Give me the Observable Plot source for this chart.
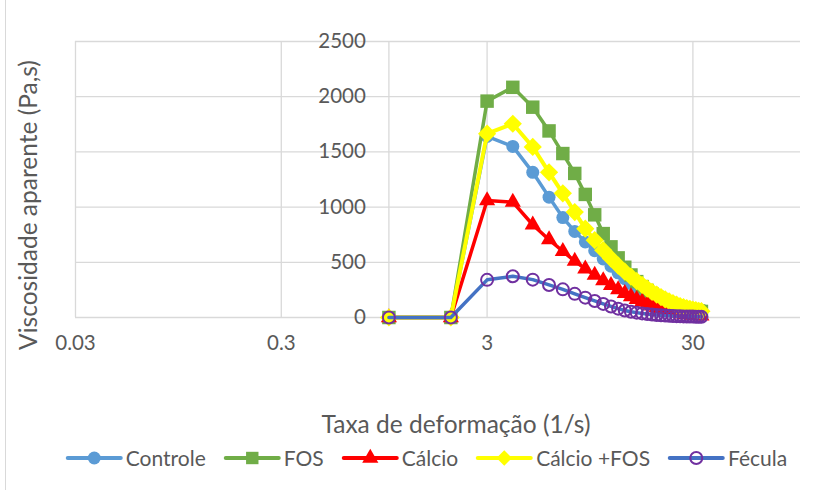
<!DOCTYPE html>
<html>
<head>
<meta charset="utf-8">
<script src="https://cdn.jsdelivr.net/npm/d3@7"></script>
<script src="https://cdn.jsdelivr.net/npm/@observablehq/plot@0.6"></script>
<style>
  body { margin: 0; background: #fff; font-family: Lato, "Open Sans", sans-serif; }
  #wrap { position: relative; width: 835px; height: 490px; overflow: hidden; background: #fff; }
  #border { position: absolute; left: 5px; top: 0; width: 1px; height: 490px; background: #d9d9d9; }
  #chart { position: absolute; left: 0; top: 0; }
  #ytitle { position: absolute; left: 28px; top: 205px; transform: translate(-50%, -50%) rotate(-90deg);
            white-space: nowrap; font-size: 24.5px; color: #595959; line-height: 1; }
  #xtitle { position: absolute; left: 456px; top: 412px; transform: translateX(-50%);
            white-space: nowrap; font-size: 24.5px; color: #595959; line-height: 1; }
  #legend { position: absolute; left: 427px; top: 447px; transform: translateX(-50%);
            display: flex; gap: 19px; white-space: nowrap; font-size: 21px; color: #595959; line-height: 22px; }
  .item { display: flex; align-items: center; gap: 4px; }
</style>
</head>
<body>
<div id="wrap">
  <div id="border"></div>
  <div id="chart"></div>
  <div id="ytitle">Viscosidade aparente (Pa,s)</div>
  <div id="xtitle">Taxa de deformação (1/s)</div>
  <div id="legend"></div>
</div>
<script>
// ---- data ----
const shearRate = [1,2,3,4,5,6,7,8,9,10,11,12,13,14,15,16,17,18,19,20,21,22,23,24,25,26,27,28,29,30,31,32,33];
const controle  = [0,0,1640,1550,1315,1090,905,780,685,605,530,465,405,352,307,268,232,200,172,148,128,111,97,85,75,66,58,52,46,41,37,33,30];
const fos       = [0,0,1960,2085,1905,1690,1485,1305,1115,930,760,640,540,455,385,325,280,245,212,185,162,143,127,114,103,94,86,79,73,68,63,59,55];
const calcio    = [0,0,1060,1045,840,705,600,510,440,385,335,292,252,218,190,165,142,122,105,90,78,67,58,50,44,38,33,29,26,23,20,18,16];
const calcioFos = [0,0,1665,1755,1545,1315,1125,955,805,700,610,535,470,415,370,330,295,262,232,208,185,165,147,130,116,104,94,86,79,72,66,61,57];
const fecula    = [0,0,341,373,343,295,255,214,180,150,123,100,80,63,52,44,37,31,27,23,20,17,15,13,12,11,10,9,8,8,7,7,6];

const seriesNames = ["Controle", "FOS", "Cálcio", "Cálcio +FOS", "Fécula"];
const seriesValues = [controle, fos, calcio, calcioFos, fecula];

const xTicks = [0.03, 0.3, 3, 30];
const xTickLabels = ["0.03", "0.3", "3", "30"];
const yTicks = [0, 500, 1000, 1500, 2000, 2500];

// ---- styles ----
const styles = {
  "Controle":    {line: "#5B9BD5", symbol: "circle",   fill: "#5B9BD5", stroke: "none",    r: 6.5, sw: 0},
  "FOS":         {line: "#70AD47", symbol: "square",   fill: "#70AD47", stroke: "none",    r: 7.6, sw: 0},
  "Cálcio":      {line: "#FF0000", symbol: "triangle", fill: "#FF0000", stroke: "none",    r: 6.0, sw: 0},
  "Cálcio +FOS": {line: "#FFFF00", symbol: "diamond2", fill: "#FFFF00", stroke: "none",    r: 8.2, sw: 0},
  "Fécula":      {line: "#4472C4", symbol: "circle",   fill: "none",    stroke: "#7030A0", r: 6.0, sw: 2}
};

const table = seriesNames.map((name, i) =>
  shearRate.map((x, j) => ({series: name, x, y: seriesValues[i][j]})));

const grid = "#d9d9d9";
const textColor = "#595959";

const marks = [
  Plot.ruleY(yTicks, {stroke: grid, strokeWidth: 1.3}),
  Plot.ruleX([...xTicks, 1], {stroke: grid, strokeWidth: 1.3}),
  Plot.text(yTicks, {x: () => 1, y: d => d, text: d => String(d), textAnchor: "end", dx: -23,
                     fill: textColor, fontSize: 20.5}),
  Plot.text(xTicks, {x: d => d, frameAnchor: "bottom", dy: 32, text: (d, i) => xTickLabels[i],
                     fill: textColor, fontSize: 20.5})
];

table.forEach(rows => {
  const s = styles[rows[0].series];
  marks.push(Plot.line(rows, {x: "x", y: "y", stroke: s.line, strokeWidth: s.line === "#FFFF00" ? 4 : 3.5,
                              strokeLinejoin: "round", strokeLinecap: "round"}));
  marks.push(Plot.dot(rows, {x: "x", y: "y", symbol: () => s.symbol, r: s.r, fill: s.fill,
                             stroke: s.stroke, strokeWidth: s.sw}));
});

const chart = Plot.plot({
  width: 835,
  height: 400,
  marginLeft: 75,
  marginRight: 35,
  marginTop: 41,
  marginBottom: 83,
  style: {fontFamily: "Lato, 'Open Sans', sans-serif", background: "transparent", overflow: "visible"},
  x: {type: "log", domain: [0.03, 100], axis: null},
  y: {domain: [0, 2500], axis: null},
  symbol: {type: "identity"},
  marks
});
document.getElementById("chart").appendChild(chart);

// ---- legend ----
const legend = document.getElementById("legend");
seriesNames.forEach(name => {
  const s = styles[name];
  const item = document.createElement("div");
  item.className = "item";
  const sym = d3.symbol(
    {circle: d3.symbolCircle, square: d3.symbolSquare, triangle: d3.symbolTriangle, diamond2: d3.symbolDiamond2}[s.symbol],
    Math.PI * Math.min(s.r, 7) * Math.min(s.r, 7))();
  item.innerHTML = `<svg width="55" height="22" style="overflow:visible">
     <line x1="1" x2="54" y1="11" y2="11" stroke="${s.line}" stroke-width="4" stroke-linecap="round"/>
     <path d="${sym}" transform="translate(27.5,11)" fill="${s.fill}" stroke="${s.stroke}" stroke-width="${s.sw}"/>
   </svg><span>${name}</span>`;
  legend.appendChild(item);
});
</script>
</body>
</html>
